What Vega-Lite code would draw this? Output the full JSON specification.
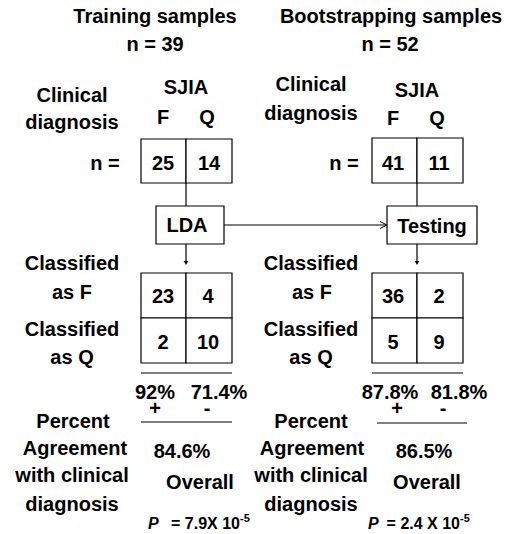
{
  "$schema": "https://vega.github.io/schema/vega-lite/v6.json",
  "width": 510,
  "height": 534,
  "autosize": "none",
  "padding": 0,
  "background": "white",
  "config": {"view": {"stroke": null}},
  "datasets": {
    "boxes": [
      {"x": 141, "x2": 186, "y": 139, "y2": 183},
      {"x": 186, "x2": 232, "y": 139, "y2": 183},
      {"x": 156, "x2": 224, "y": 206, "y2": 244},
      {"x": 141, "x2": 186, "y": 273, "y2": 318},
      {"x": 186, "x2": 232, "y": 273, "y2": 318},
      {"x": 141, "x2": 186, "y": 318, "y2": 363},
      {"x": 186, "x2": 232, "y": 318, "y2": 363},
      {"x": 372, "x2": 417, "y": 138, "y2": 183},
      {"x": 417, "x2": 463, "y": 138, "y2": 183},
      {"x": 387, "x2": 477, "y": 206, "y2": 244},
      {"x": 372, "x2": 417, "y": 273, "y2": 318},
      {"x": 417, "x2": 463, "y": 273, "y2": 318},
      {"x": 372, "x2": 417, "y": 318, "y2": 363},
      {"x": 417, "x2": 463, "y": 318, "y2": 363}
    ],
    "lines": [
      {"x": 186, "x2": 186, "y": 183, "y2": 206},
      {"x": 186, "x2": 186, "y": 244, "y2": 262},
      {"x": 417, "x2": 417, "y": 183, "y2": 206},
      {"x": 417, "x2": 417, "y": 244, "y2": 262},
      {"x": 224, "x2": 386, "y": 225, "y2": 225},
      {"x": 141, "x2": 232, "y": 373, "y2": 373},
      {"x": 141, "x2": 232, "y": 422, "y2": 422},
      {"x": 372, "x2": 463, "y": 373, "y2": 373},
      {"x": 377, "x2": 467, "y": 423, "y2": 423}
    ],
    "heads": [
      {"kind": "down", "x": 186, "y": 263},
      {"kind": "down", "x": 417, "y": 263},
      {"kind": "open", "x": 387, "y": 225}
    ],
    "labels": [
      {"text": "Training samples", "x": 155, "y": 17},
      {"text": "n = 39", "x": 155, "y": 45},
      {"text": "Clinical", "x": 72, "y": 96},
      {"text": "diagnosis", "x": 72, "y": 123},
      {"text": "SJIA", "x": 186, "y": 88},
      {"text": "F", "x": 163, "y": 118},
      {"text": "Q", "x": 207, "y": 118},
      {"text": "n =", "x": 105, "y": 164},
      {"text": "25", "x": 163, "y": 164},
      {"text": "14", "x": 209, "y": 164},
      {"text": "LDA", "x": 187, "y": 226},
      {"text": "Classified", "x": 72, "y": 264},
      {"text": "as F", "x": 72, "y": 293},
      {"text": "Classified", "x": 72, "y": 330},
      {"text": "as Q", "x": 72, "y": 358},
      {"text": "23", "x": 163, "y": 297},
      {"text": "4", "x": 208, "y": 297},
      {"text": "2", "x": 163, "y": 343},
      {"text": "10", "x": 208, "y": 343},
      {"text": "92%", "x": 155, "y": 393},
      {"text": "71.4%", "x": 219, "y": 393},
      {"text": "+", "x": 155, "y": 409},
      {"text": "-", "x": 207, "y": 409},
      {"text": "Percent", "x": 73, "y": 422},
      {"text": "Agreement", "x": 75, "y": 449},
      {"text": "with clinical", "x": 72, "y": 476},
      {"text": "diagnosis", "x": 72, "y": 505},
      {"text": "84.6%", "x": 182, "y": 452},
      {"text": "Overall", "x": 200, "y": 483},
      {"text": "Bootstrapping samples", "x": 391, "y": 17},
      {"text": "n = 52", "x": 390, "y": 45},
      {"text": "Clinical", "x": 311, "y": 85},
      {"text": "diagnosis", "x": 311, "y": 114},
      {"text": "SJIA", "x": 417, "y": 91},
      {"text": "F", "x": 393, "y": 119},
      {"text": "Q", "x": 437, "y": 119},
      {"text": "n =", "x": 344, "y": 164},
      {"text": "41", "x": 393, "y": 164},
      {"text": "11", "x": 439, "y": 164},
      {"text": "Testing", "x": 432, "y": 227},
      {"text": "Classified", "x": 311, "y": 264},
      {"text": "as F", "x": 312, "y": 293},
      {"text": "Classified", "x": 311, "y": 330},
      {"text": "as Q", "x": 311, "y": 358},
      {"text": "36", "x": 393, "y": 297},
      {"text": "2", "x": 439, "y": 297},
      {"text": "5", "x": 393, "y": 343},
      {"text": "9", "x": 439, "y": 343},
      {"text": "87.8%", "x": 390, "y": 393},
      {"text": "81.8%", "x": 459, "y": 393},
      {"text": "+", "x": 397, "y": 409},
      {"text": "-", "x": 443, "y": 409},
      {"text": "Percent", "x": 311, "y": 422},
      {"text": "Agreement", "x": 312, "y": 449},
      {"text": "with clinical", "x": 311, "y": 476},
      {"text": "diagnosis", "x": 311, "y": 505},
      {"text": "86.5%", "x": 424, "y": 452},
      {"text": "Overall", "x": 427, "y": 483}
    ],
    "pvals": [
      {"part": "p", "text": "P", "x": 148, "y": 524},
      {"part": "main", "text": "= 7.9X 10", "x": 240, "y": 524},
      {"part": "exp", "text": "-5", "x": 240, "y": 519},
      {"part": "p", "text": "P", "x": 368, "y": 524},
      {"part": "main", "text": "= 2.4 X 10", "x": 460, "y": 524},
      {"part": "exp", "text": "-5", "x": 460, "y": 519}
    ]
  },
  "encoding": {
    "x": {"field": "x", "type": "quantitative", "scale": {"domain": [0, 510]}, "axis": null},
    "y": {"field": "y", "type": "quantitative", "scale": {"domain": [0, 534], "reverse": true}, "axis": null}
  },
  "layer": [
    {
      "data": {"name": "boxes"},
      "mark": {"type": "rect", "fill": "white", "stroke": "black", "strokeWidth": 1.2},
      "encoding": {
        "x2": {"field": "x2"},
        "y2": {"field": "y2"}
      }
    },
    {
      "data": {"name": "lines"},
      "mark": {"type": "rule", "color": "black", "strokeWidth": 1.2},
      "encoding": {
        "x2": {"field": "x2"},
        "y2": {"field": "y2"}
      }
    },
    {
      "data": {"name": "heads"},
      "transform": [{"filter": "datum.kind === 'down'"}],
      "mark": {"type": "point", "shape": "triangle-down", "filled": true, "color": "black", "size": 22, "opacity": 1}
    },
    {
      "data": {"name": "heads"},
      "transform": [{"filter": "datum.kind === 'open'"}],
      "mark": {"type": "point", "shape": "M-2,-1L0,0L-2,1", "filled": false, "color": "black", "strokeWidth": 1, "size": 49, "opacity": 1}
    },
    {
      "data": {"name": "labels"},
      "mark": {"type": "text", "font": "Liberation Sans", "fontWeight": "bold", "fontSize": 20, "align": "center", "baseline": "middle", "color": "black"},
      "encoding": {"text": {"field": "text"}}
    },
    {
      "data": {"name": "pvals"},
      "transform": [{"filter": "datum.part === 'p'"}],
      "mark": {"type": "text", "font": "Liberation Sans", "fontWeight": "bold", "fontStyle": "italic", "fontSize": 16, "align": "left", "baseline": "middle", "color": "black"},
      "encoding": {"text": {"field": "text"}}
    },
    {
      "data": {"name": "pvals"},
      "transform": [{"filter": "datum.part === 'main'"}],
      "mark": {"type": "text", "font": "Liberation Sans", "fontWeight": "bold", "fontSize": 16, "align": "right", "baseline": "middle", "color": "black"},
      "encoding": {"text": {"field": "text"}}
    },
    {
      "data": {"name": "pvals"},
      "transform": [{"filter": "datum.part === 'exp'"}],
      "mark": {"type": "text", "font": "Liberation Sans", "fontWeight": "bold", "fontSize": 11, "align": "left", "baseline": "middle", "color": "black"},
      "encoding": {"text": {"field": "text"}}
    }
  ]
}
